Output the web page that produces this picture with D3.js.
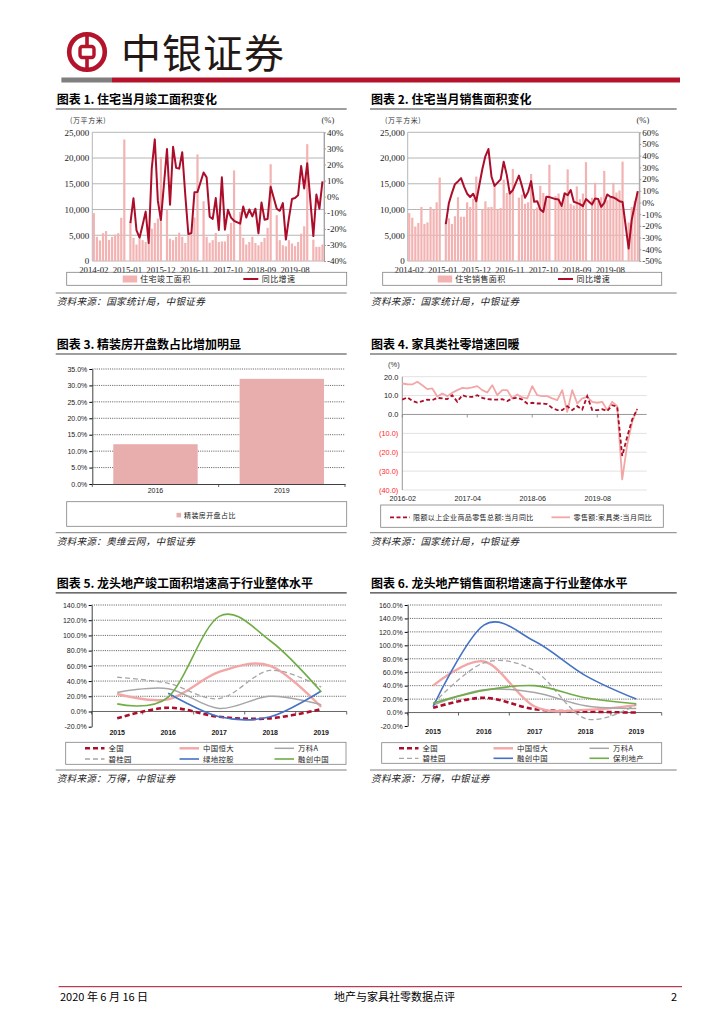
<!DOCTYPE html>
<html>
<head>
<meta charset="utf-8">
<script src="https://cdn.jsdelivr.net/npm/d3@7/dist/d3.min.js"></script>
<style>
  body { margin: 0; background: #fff; }
  svg { display: block; }
</style>
</head>
<body>
<svg id="page" width="724" height="1024"></svg>
<script>
// ---------- data ----------
const months = [
  '2014-02','2014-03','2014-04','2014-05','2014-06','2014-07','2014-08','2014-09','2014-10','2014-11','2014-12',
  '2015-01','2015-02','2015-03','2015-04','2015-05','2015-06','2015-07','2015-08','2015-09','2015-10','2015-11','2015-12',
  '2016-01','2016-02','2016-03','2016-04','2016-05','2016-06','2016-07','2016-08','2016-09','2016-10','2016-11','2016-12',
  '2017-01','2017-02','2017-03','2017-04','2017-05','2017-06','2017-07','2017-08','2017-09','2017-10','2017-11','2017-12',
  '2018-01','2018-02','2018-03','2018-04','2018-05','2018-06','2018-07','2018-08','2018-09','2018-10','2018-11','2018-12',
  '2019-01','2019-02','2019-03','2019-04','2019-05','2019-06','2019-07','2019-08','2019-09','2019-10','2019-11','2019-12',
  '2020-01','2020-02','2020-03','2020-04','2020-05'
];
const monthTicks = ['2014-02','2015-01','2015-12','2016-11','2017-10','2018-09','2019-08'];

// 图表1 住宅当月竣工面积 (万平方米) / 同比 (%)
const completedArea = [
  9300, 4700, 4000, 5400, 5800, 4100, 4700, 5100, 5400, 8400, 23600,
  null, 7600, 4500, 3200, 4350, 4050, 3700, 3550, 6300, 7400, 8250, 20200,
  null, 10000, 4350, 4050, 4700, 5500, 4700, 3500, 5150, 5000, 8450, 20700,
  null, 11600, 4700, 3550, 4050, 5450, 3700, 3800, 3800, 5200, 7400, 17600,
  null, 9550, 4500, 3200, 3700, 4700, 3500, 3050, 3700, 4500, 6450, 18800,
  null, 8900, 4050, 3050, 2850, 4050, 3400, 2900, 3700, 5300, 6750, 22700,
  null, 4150, 2750, 2750, 3200
];
const completedYoy = [
  null, null, null, null, null, null, null, null, null, null, null,
  null, -16.4, -1, -21, -25.5, -17.6, -9.3, -28.8, 17.6, 35.6, -2.5, -14.5,
  null, 29.6, -5, 31, 17.9, 17.4, 27.6, 1, -23.2, -22.8, 2.7, 2.9,
  null, 15, 12, -12.5, -13.8, -0.9, -20.7, 12, -20.5, -8.2, -13, -15,
  null, -16.8, -6.1, -13, -8, -12.3, -7.5, -22.8, -3.6, -14.3, -13.9, 6.1,
  null, -7.5, -8.8, -4, -26.7, -13.3, -1.5, -0.8, 0.9, 19, 5.1, 20.7,
  null, -24.5, 1.3, -7.5, 9.5
];

// 图表2 住宅当月销售面积 (万平方米) / 同比 (%)
const soldArea = [
  9300, 8400, 6700, 7400, 10500, 7200, 7500, 10500, 10000, 11400, 16200,
  null, 7300, 8300, 7200, 8700, 12400, 8600, 8600, 11400, 10500, 12100, 16400,
  null, 10000, 11600, 10450, 10500, 14700, 10000, 10300, 15800, 13200, 13400, 17900,
  null, 12300, 12900, 11100, 11400, 16900, 10100, 10400, 14600, 13200, 12000, 18700,
  null, 12600, 13100, 10700, 13400, 17800, 11100, 10800, 14500, 12000, 13100, 19200,
  null, 12300, 15200, 11700, 12400, 17500, 11800, 12300, 15200, 13300, 13700, 19300,
  null, 7500, 10500, 11700, 13300
];
const soldYoy = [
  null, null, null, null, null, null, null, null, null, null, null,
  null, -18.5, -0.7, 8, 15.7, 18, 20.8, 13.6, 7.5, 4.7, 7.5, 1,
  null, 28.6, 39.7, 45.7, 22, 14.2, 17, 19.8, 34.8, 23.6, 7.7, 10.6,
  null, 23, 14, 4, 9.1, 18.3, 0.6, 1.1, -6, -8, 4.9, 4.6,
  null, 2.9, 2.6, -2.9, 7.7, 6.3, 10.6, 0.6, -0.3, -1.4, -3.1, 2.9,
  null, -1.7, 3.4, 2.9, -3.7, -0.3, 6.9, 4.9, 4.3, 2.9, 1.1, 0.5,
  null, -39.4, -15, -2.3, 9.7
];

// 图表3 精装房开盘占比
const fitYears = ['2016', '2019'];
const fitShare = [12.1, 32.0];

// 图表4 社零 (%)
const months4 = [
  '2016-02','2016-03','2016-04','2016-05','2016-06','2016-07','2016-08','2016-09','2016-10','2016-11','2016-12',
  '2017-02','2017-03','2017-04','2017-05','2017-06','2017-07','2017-08','2017-09','2017-10','2017-11','2017-12',
  '2018-02','2018-03','2018-04','2018-05','2018-06','2018-07','2018-08','2018-09','2018-10','2018-11','2018-12',
  '2019-02','2019-03','2019-04','2019-05','2019-06','2019-07','2019-08','2019-09','2019-10','2019-11','2019-12',
  '2020-02','2020-03','2020-04','2020-05'
];
const month4Ticks = ['2016-02', '2017-04', '2018-06', '2019-08'];
const retailTotalYoy = [
  7.9, 9.0, 7.2, 6.3, 7.1, 7.9, 7.6, 8.8, 8.5, 8.1, 10.2,
  6.7, 10.2, 9.3, 9.3, 10.2, 8.8, 8.1, 7.9, 7.9, 8.1, 7.1,
  8.5, 8.8, 7.9, 5.8, 6.2, 5.8, 5.8, 5.5, 3.5, 2.3, 2.3,
  4.4, 2.3, 4.4, 2.6, 9.7, 2.3, 2.3, 2.8, 1.8, 4.9, 4.1,
  -22, -11.8, -2.6, 2.8
];
const furnitureYoy = [
  16.4, 16.0, 15.9, 17.3, 15.5, 13.4, 13.8, 9.5, 11.1, 9.7, 11.5,
  12.9, 14.1, 13.8, 14.3, 15.0, 12.9, 11.6, 15.5, 10.2, 12.9, 12.9,
  8.5, 10.6, 9.0, 8.5, 15.0, 10.2, 9.7, 9.7, 8.5, 7.6, 12.9,
  1.4, 12.9, 5.8, 8.5, 9.3, 6.7, 6.2, 6.7, 2.3, 6.7, 4.4,
  -34.4, -16, -4, 3
];

// 图表5 / 图表6 (%)
const years = ['2015', '2016', '2017', '2018', '2019'];
const compNational = [-9, 5, -7, -9, 3];
const compEvergrande = [23, 16, 52, 60, 6];
const compVanke = [25, 30, 4, 20, 9];
const compCountryGarden = [45, 37, 17, 54, 32];
const compGreenland = [null, 24, -7, -7, 27];
const compSunac = [10, 19, 125, 93, 26];

const saleNational = [7, 22, 5, 1.5, 0];
const saleEvergrande = [40, 76, 9, 4, 11];
const saleVanke = [11, 34, 30, 10, 6];
const saleCountryGarden = [13, 74, 62, -9, 12];
const saleSunac = [9, 130, 106, 55, 20];
const salePoly = [14, 33, 40, 22, 13];

// ---------- styles ----------
const CJK = '"Noto Sans CJK SC", "Noto Sans", sans-serif';
const SERIF = '"Liberation Serif", "DejaVu Serif", serif';
const SANS = '"Liberation Sans", Arial, sans-serif';
const LOGO_RED = '#b3132b';
const DARK_RED = '#ab0d2a';
const BAR_PINK = '#f3b3b3';
const LINE_PINK = '#f2a7a6';
const GREY = '#a6a6a6';
const BLUE = '#4472c4';
const GREEN = '#70ad47';

const svg = d3.select('#page');

// ---------- page frame ----------
function header(){
  const g = svg.append('g');
  g.append('circle').attr('cx', 87).attr('cy', 52).attr('r', 17.8)
   .attr('fill', 'none').attr('stroke', LOGO_RED).attr('stroke-width', 4.6);
  g.append('rect').attr('x', 85.2).attr('y', 33).attr('width', 3.6).attr('height', 38).attr('fill', LOGO_RED);
  g.append('rect').attr('x', 80).attr('y', 46.5).attr('width', 14).attr('height', 11).attr('rx', 2.5)
   .attr('fill', '#fff').attr('stroke', LOGO_RED).attr('stroke-width', 3.4);

  g.append('text').attr('x', 121).attr('y', 67.5).text('中银证券')
   .style('font-family', CJK).style('font-size', '40px').style('font-weight', 400)
   .style('fill', '#231815').style('letter-spacing', '1px');

  g.append('rect').attr('x', 61.4).attr('y', 77.5).attr('width', 50.6).attr('height', 5).attr('fill', '#7f7f7f');
  g.append('rect').attr('x', 112).attr('y', 77.5).attr('width', 568).attr('height', 5).attr('fill', LOGO_RED);
}

function footer(){
  const g = svg.append('g');
  g.append('line').attr('x1', 58.6).attr('x2', 682).attr('y1', 986.7).attr('y2', 986.7)
   .attr('stroke', DARK_RED).attr('stroke-width', 1);
  const t = (x, txt, anchor) => g.append('text').attr('x', x).attr('y', 1000.5).text(txt)
     .attr('text-anchor', anchor).style('font-family', CJK).style('font-size', '11px').style('fill', '#000');
  t(60, '2020 年 6 月 16 日', 'start');
  t(394.5, '地产与家具社零数据点评', 'middle');
  t(677, '2', 'end');
}

function panelTitle(x0, x1, y, txt){
  svg.append('text').attr('x', x0 + 1).attr('y', y).text(txt)
     .style('font-family', CJK).style('font-size', '12px').style('font-weight', 'bold').style('fill', '#000');
  svg.append('line').attr('x1', x0).attr('x2', x1).attr('y1', y + 5).attr('y2', y + 5)
     .attr('stroke', '#3f3f3f').attr('stroke-width', 1.2);
}

function panelSource(x0, x1, y, txt){
  svg.append('line').attr('x1', x0).attr('x2', x1).attr('y1', y).attr('y2', y)
     .attr('stroke', '#7f7f7f').attr('stroke-width', 1);
  svg.append('text').attr('x', x0 + 1).attr('y', y + 12).text(txt)
     .style('font-family', CJK).style('font-size', '9.6px').style('font-style', 'italic')
     .style('fill', '#222').style('letter-spacing', '0.3px');
}

function legendBox(x, y, w, h){
  svg.append('rect').attr('x', x).attr('y', y).attr('width', w).attr('height', h)
     .attr('fill', 'none').attr('stroke', '#808080').attr('stroke-width', 0.8);
}

function legendText(x, y, txt, size){
  svg.append('text').attr('x', x).attr('y', y).attr('dy', '0.35em').text(txt)
     .style('font-family', CJK).style('font-size', (size || 7.6) + 'px').style('fill', '#222')
     .style('letter-spacing', '0.4px');
}

function gridY(g, scale, values, x0, x1, stroke, dash){
  g.append('g').selectAll('line').data(values).join('line')
   .attr('x1', x0).attr('x2', x1)
   .attr('y1', d => scale(d)).attr('y2', d => scale(d))
   .attr('stroke', stroke).attr('stroke-width', 0.8)
   .attr('stroke-dasharray', dash || null);
}

function styleTicks(sel, font, size, color){
  sel.selectAll('text').style('font-family', font).style('font-size', size + 'px').style('fill', color || '#000');
}

// ---------- 图表1 / 图表2 ----------
function monthlyChart(o){
  const g = svg.append('g');
  const x = d3.scaleBand().domain(months).range([o.left, o.right]).paddingInner(0.28).paddingOuter(0.14);
  const y = d3.scaleLinear().domain([0, 25000]).range([o.bottom, o.top]);
  const y2 = d3.scaleLinear().domain(o.pctDomain).range([o.bottom, o.top]);
  const areaTicks = d3.range(0, 25001, 5000);

  gridY(g, y, areaTicks, o.left, o.right, '#a3a3a3');
  [o.left, o.right].forEach(xx => g.append('line').attr('x1', xx).attr('x2', xx)
     .attr('y1', o.top).attr('y2', o.bottom).attr('stroke', '#a3a3a3').attr('stroke-width', 0.8));

  const barData = months.map((m, i) => ({m: m, v: o.bars[i]})).filter(d => d.v != null);
  g.append('g').selectAll('rect').data(barData).join('rect')
   .attr('x', d => x(d.m)).attr('width', x.bandwidth())
   .attr('y', d => y(d.v)).attr('height', d => y(0) - y(d.v))
   .attr('fill', BAR_PINK);

  const pts = months.map((m, i) => ({m: m, v: o.line[i]})).filter(d => d.v != null);
  const line = d3.line().x(d => x(d.m) + x.bandwidth() / 2).y(d => y2(d.v));
  g.append('path').datum(pts).attr('d', line)
   .attr('fill', 'none').attr('stroke', DARK_RED).attr('stroke-width', 2).attr('stroke-linejoin', 'round');

  g.append('g').attr('transform', `translate(${o.left},0)`)
   .call(d3.axisLeft(y).tickValues(areaTicks).tickFormat(d3.format(',')).tickSize(0).tickPadding(3))
   .call(a => a.select('.domain').remove())
   .call(a => styleTicks(a, SERIF, 9, '#222'));

  g.append('g').attr('transform', `translate(${o.right},0)`)
   .call(d3.axisRight(y2).tickValues(o.pctTicks).tickFormat(d => d + '%').tickSizeInner(2).tickSizeOuter(0).tickPadding(1))
   .call(a => a.select('.domain').attr('stroke', '#a3a3a3'))
   .call(a => a.selectAll('.tick line').attr('stroke', '#a3a3a3'))
   .call(a => styleTicks(a, SERIF, 9, '#222'));

  g.append('g').attr('transform', `translate(0,${o.bottom})`)
   .call(d3.axisBottom(x).tickValues(monthTicks).tickSize(0).tickPadding(5.5))
   .call(a => a.select('.domain').remove())
   .call(a => styleTicks(a, SERIF, 8.8, '#222'));

  g.append('text').attr('x', o.unitX).attr('y', 120.3).attr('dy', '0.35em').text('(万平方米)')
   .style('font-family', CJK).style('font-size', '7px').style('fill', '#333').style('letter-spacing', '0.6px');
  g.append('text').attr('x', o.pctX).attr('y', 120.3).attr('dy', '0.35em').text('(%)')
   .style('font-family', SERIF).style('font-size', '8.5px').style('fill', '#333');

  legendBox(o.legend[0], 272.3, o.legend[1], 13);
  g.append('rect').attr('x', o.legendItems[0]).attr('y', 275.5).attr('width', 14.5).attr('height', 7).attr('fill', BAR_PINK);
  legendText(o.legendItems[0] + 17.5, 279, o.barName, 8);
  g.append('line').attr('x1', o.legendItems[1]).attr('x2', o.legendItems[1] + 15)
   .attr('y1', 279).attr('y2', 279).attr('stroke', DARK_RED).attr('stroke-width', 2);
  legendText(o.legendItems[1] + 18.5, 279, '同比增速', 8);
}

// ---------- 图表3 ----------
function fitChart(){
  const g = svg.append('g');
  const left = 92.3, right = 345, top = 369, bottom = 484;
  const x = d3.scaleBand().domain(fitYears).range([left, right]).paddingInner(0.332).paddingOuter(0.166);
  const y = d3.scaleLinear().domain([0, 35]).range([bottom, top]);
  const ticks = d3.range(0, 36, 5);

  gridY(g, y, ticks.slice(1), left, right, '#404040', '1.1,1.1');

  g.append('g').selectAll('rect').data(fitYears).join('rect')
   .attr('x', d => x(d)).attr('width', x.bandwidth())
   .attr('y', (d, i) => y(fitShare[i])).attr('height', (d, i) => y(0) - y(fitShare[i]))
   .attr('fill', '#e8adad');

  g.append('g').attr('transform', `translate(${left},0)`)
   .call(d3.axisLeft(y).tickValues(ticks).tickFormat(d => d.toFixed(1) + '%').tickSizeInner(3).tickSizeOuter(0).tickPadding(2))
   .call(a => a.select('.domain').attr('stroke', '#404040'))
   .call(a => styleTicks(a, SANS, 7, '#222'));

  g.append('g').attr('transform', `translate(0,${bottom})`)
   .call(d3.axisBottom(x).tickSize(0).tickPadding(4))
   .call(a => a.select('.domain').attr('stroke', '#404040'))
   .call(a => styleTicks(a, SANS, 7, '#222'));
  g.append('g').selectAll('line').data([left, (left + right) / 2, right]).join('line')
   .attr('x1', d => d).attr('x2', d => d).attr('y1', bottom).attr('y2', bottom + 3)
   .attr('stroke', '#404040').attr('stroke-width', 0.8);

  legendBox(66.7, 501.7, 280, 24.6);
  g.append('rect').attr('x', 176.5).attr('y', 512.8).attr('width', 4.6).attr('height', 4.6).attr('fill', '#e8adad');
  legendText(184, 515.3, '精装房开盘占比', 7);
}

// ---------- 图表4 ----------
function retailChart(){
  const g = svg.append('g');
  const left = 402.3, right = 646.7, top = 376.7, bottom = 490;
  const x = d3.scaleLinear().domain([0, months4.length + 0.9]).range([left, right]);
  const y = d3.scaleLinear().domain([-40, 20]).range([bottom, top]);
  const ticks = d3.range(-40, 21, 10);

  gridY(g, y, ticks.filter(d => d !== 0), left, right, '#d9d9d9');
  gridY(g, y, [0], left, right, '#7f7f7f');
  g.append('line').attr('x1', left).attr('x2', left).attr('y1', top).attr('y2', bottom)
   .attr('stroke', '#7f7f7f').attr('stroke-width', 0.8);

  const tickIdx = month4Ticks.map(m => months4.indexOf(m));
  g.append('g').selectAll('line').data(tickIdx).join('line')
   .attr('x1', d => x(d)).attr('x2', d => x(d)).attr('y1', y(0)).attr('y2', y(0) + 3)
   .attr('stroke', '#7f7f7f').attr('stroke-width', 0.8);

  const line = d3.line().x((d, i) => x(i)).y(d => y(d));
  g.append('path').datum(furnitureYoy).attr('d', line)
   .attr('fill', 'none').attr('stroke', LINE_PINK).attr('stroke-width', 1.8).attr('stroke-linejoin', 'round');
  g.append('path').datum(retailTotalYoy).attr('d', line)
   .attr('fill', 'none').attr('stroke', DARK_RED).attr('stroke-width', 1.8).attr('stroke-dasharray', '4,2.5');

  g.append('g').attr('transform', `translate(${left},0)`)
   .call(d3.axisLeft(y).tickValues(ticks).tickSize(0).tickPadding(4)
     .tickFormat(d => d < 0 ? '(' + Math.abs(d).toFixed(1) + ')' : d.toFixed(1)))
   .call(a => a.select('.domain').remove())
   .call(a => styleTicks(a, SANS, 7.4, '#222'))
   .call(a => a.selectAll('.tick text').style('fill', d => d < 0 ? '#ff1f1f' : '#222'));

  g.append('g').attr('transform', `translate(0,${bottom})`)
   .call(d3.axisBottom(x).tickValues(tickIdx).tickFormat(i => months4[i]).tickSize(0).tickPadding(5.5))
   .call(a => a.select('.domain').remove())
   .call(a => styleTicks(a, SANS, 7.2, '#222'));

  g.append('text').attr('x', 388).attr('y', 364.3).attr('dy', '0.35em').text('(%)')
   .style('font-family', SANS).style('font-size', '7.5px').style('fill', '#333');

  legendBox(380.7, 505, 282.6, 22.3);
  g.append('line').attr('x1', 390).attr('x2', 410).attr('y1', 517.3).attr('y2', 517.3)
   .attr('stroke', DARK_RED).attr('stroke-width', 1.8).attr('stroke-dasharray', '4,2.5');
  legendText(413, 517.3, '限额以上企业商品零售总额:当月同比', 7);
  g.append('line').attr('x1', 551.5).attr('x2', 570).attr('y1', 517.3).attr('y2', 517.3)
   .attr('stroke', LINE_PINK).attr('stroke-width', 1.8);
  legendText(573.5, 517.3, '零售额:家具类:当月同比', 7);
}

// ---------- 图表5 / 图表6 ----------
function developerChart(o){
  const g = svg.append('g');
  const x = d3.scaleBand().domain(years).range([o.left, o.right]);
  const y = d3.scaleLinear().domain(o.domain).range([o.bottom, o.top]);
  const ticks = d3.range(o.domain[0], o.domain[1] + 1, 20);

  gridY(g, y, ticks.filter(d => d !== 0 && d !== o.domain[0]), o.left, o.right, '#404040', '1.1,1.1');
  gridY(g, y, [0], o.left, o.right, '#404040');
  g.append('g').selectAll('line').data(d3.range(years.length + 1)).join('line')
   .attr('x1', i => o.left + i * x.step()).attr('x2', i => o.left + i * x.step())
   .attr('y1', y(0)).attr('y2', y(0) + 3).attr('stroke', '#404040').attr('stroke-width', 0.8);

  const line = d3.line().curve(d3.curveCardinal.tension(0))
    .x(d => x(d.year) + x.bandwidth() / 2).y(d => y(d.v));
  o.series.forEach(s => {
    const pts = years.map((yr, i) => ({year: yr, v: s.values[i]})).filter(d => d.v != null);
    g.append('path').datum(pts).attr('d', line)
     .attr('fill', 'none').attr('stroke', s.color).attr('stroke-width', s.width)
     .attr('stroke-dasharray', s.dash || null);
  });

  g.append('g').attr('transform', `translate(${o.left},0)`)
   .call(d3.axisLeft(y).tickValues(ticks).tickFormat(d => d.toFixed(1) + '%').tickSizeInner(3).tickSizeOuter(0).tickPadding(2))
   .call(a => a.select('.domain').attr('stroke', '#404040'))
   .call(a => styleTicks(a, SANS, 7, '#222'));

  g.append('g').attr('transform', `translate(0,${o.bottom})`)
   .call(d3.axisBottom(x).tickSize(0).tickPadding(3.5))
   .call(a => a.select('.domain').remove())
   .call(a => styleTicks(a, SANS, 7, '#222'))
   .call(a => a.selectAll('text').style('font-weight', 'bold'));

  legendBox(o.legendBox[0], o.legendBox[1], o.legendBox[2], o.legendBox[3]);
  o.series.forEach((s, i) => {
    const col = i % 3, row = Math.floor(i / 3);
    const lx = o.legendCols[col], ly = o.legendRows[row];
    g.append('line').attr('x1', lx).attr('x2', lx + 19.5).attr('y1', ly).attr('y2', ly)
     .attr('stroke', s.color).attr('stroke-width', s.width).attr('stroke-dasharray', s.dash || null);
    legendText(lx + 23.5, ly, s.name, 7.4);
  });
}

// ---------- draw ----------
header();

panelTitle(55.7, 346.7, 104, '图表 1. 住宅当月竣工面积变化');
monthlyChart({
  left: 92.3, right: 324, top: 132.3, bottom: 261,
  bars: completedArea, line: completedYoy,
  pctDomain: [-40, 40], pctTicks: d3.range(-40, 41, 10),
  unitX: 70, pctX: 321.5,
  legend: [66.7, 280], legendItems: [122.7, 243.3], barName: '住宅竣工面积'
});
panelSource(55.7, 346.7, 293, '资料来源：国家统计局，中银证券');

panelTitle(370, 676.7, 104, '图表 2. 住宅当月销售面积变化');
monthlyChart({
  left: 407.7, right: 639.3, top: 132.3, bottom: 261,
  bars: soldArea, line: soldYoy,
  pctDomain: [-50, 60], pctTicks: d3.range(-50, 61, 10),
  unitX: 385, pctX: 636.5,
  legend: [382.7, 279], legendItems: [437.7, 558], barName: '住宅销售面积'
});
panelSource(370, 676.7, 293, '资料来源：国家统计局，中银证券');

panelTitle(55.7, 346.7, 349, '图表 3. 精装房开盘数占比增加明显');
fitChart();
panelSource(55.7, 346.7, 532.7, '资料来源：奥维云网，中银证券');

panelTitle(370, 676.7, 349, '图表 4. 家具类社零增速回暖');
retailChart();
panelSource(370, 676.7, 532.7, '资料来源：国家统计局，中银证券');

panelTitle(55.7, 346.7, 587.8, '图表 5. 龙头地产竣工面积增速高于行业整体水平');
developerChart({
  left: 91.7, right: 346.7, top: 605, bottom: 726.7, domain: [-20, 140],
  series: [
    {name: '全国', values: compNational, color: DARK_RED, width: 2.6, dash: '5,3'},
    {name: '中国恒大', values: compEvergrande, color: LINE_PINK, width: 2.4},
    {name: '万科A', values: compVanke, color: GREY, width: 1.5},
    {name: '碧桂园', values: compCountryGarden, color: GREY, width: 1.3, dash: '5,3'},
    {name: '绿地控股', values: compGreenland, color: BLUE, width: 1.6},
    {name: '融创中国', values: compSunac, color: GREEN, width: 1.6}
  ],
  legendBox: [65.7, 742.3, 280.3, 22],
  legendCols: [85, 179.5, 274.5], legendRows: [748.3, 759]
});
panelSource(55.7, 346.7, 770, '资料来源：万得，中银证券');

panelTitle(370, 676.7, 587.8, '图表 6. 龙头地产销售面积增速高于行业整体水平');
developerChart({
  left: 407.7, right: 661.7, top: 605, bottom: 726, domain: [-20, 160],
  series: [
    {name: '全国', values: saleNational, color: DARK_RED, width: 2.6, dash: '5,3'},
    {name: '中国恒大', values: saleEvergrande, color: LINE_PINK, width: 2.4},
    {name: '万科A', values: saleVanke, color: GREY, width: 1.5},
    {name: '碧桂园', values: saleCountryGarden, color: GREY, width: 1.3, dash: '5,3'},
    {name: '融创中国', values: saleSunac, color: BLUE, width: 1.6},
    {name: '保利地产', values: salePoly, color: GREEN, width: 1.6}
  ],
  legendBox: [381.7, 742.7, 280, 20.6],
  legendCols: [399, 493.5, 589.5], legendRows: [748.3, 758.3]
});
panelSource(370, 676.7, 770, '资料来源：万得，中银证券');

footer();
</script>
</body>
</html>
